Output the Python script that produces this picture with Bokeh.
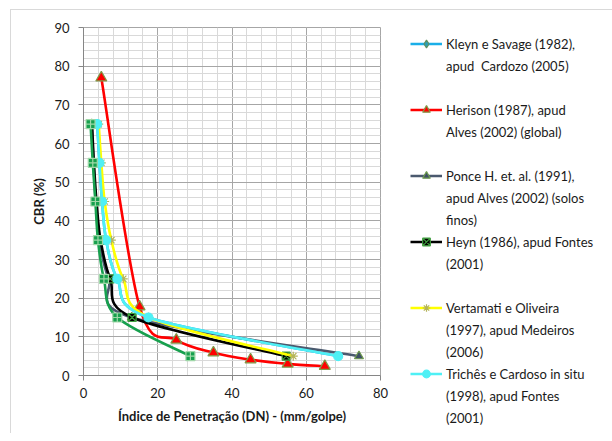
import numpy as np
from bokeh.plotting import figure
from bokeh.models import Range1d, SingleIntervalTicker, Legend, LegendItem
from bokeh.embed import file_html
from bokeh.resources import INLINE

# ---- data ----
kleyn_dn = [3.7, 4.3, 5.0, 6.1, 9.1, 17.5, 68.6]
kleyn_cbr = [65, 55, 45, 35, 25, 15, 5]

herison_dn = [4.8, 15.1, 25.0, 35.0, 45.0, 55.0, 65.0]
herison_cbr = [77, 17.8, 9.2, 5.9, 4.1, 3.0, 2.4]

ponce_dn = [2.2, 2.7, 3.3, 4.3, 6.8, 13.0, 74.2]
ponce_cbr = [65, 55, 45, 35, 25, 15, 5]

heyn_dn = [2.3, 2.8, 3.5, 4.6, 7.2, 13.1, 54.6]
heyn_cbr = [65, 55, 45, 35, 25, 15, 5]

vert_dn = [4.1, 4.8, 5.7, 7.5, 10.7, 17.6, 56.5]
vert_cbr = [65, 55, 45, 35, 25, 15, 5]

trich_dn = [3.7, 4.3, 5.0, 6.1, 9.1, 17.5, 68.6]
trich_cbr = [65, 55, 45, 35, 25, 15, 5]

green_dn = [1.9, 2.5, 3.2, 3.9, 5.5, 9.1, 28.8]
green_cbr = [65, 55, 45, 35, 25, 15, 5]

legend_lines = [
    ["Kleyn e Savage (1982),", "apud  Cardozo (2005)"],
    ["Herison (1987), apud", "Alves (2002) (global)"],
    ["Ponce H. et. al. (1991),", "apud Alves (2002) (solos", "finos)"],
    ["Heyn (1986), apud Fontes", "(2001)"],
    ["Vertamati e Oliveira", "(1997), apud Medeiros", "(2006)"],
    ["Trichês e Cardoso in situ", "(1998), apud Fontes", "(2001)"],
]

FONT = "Lato"
ROW_H = 19
ROW_GAP = 3


def smooth_segments(xs, ys):
    """Excel-like smoothed line: cubic Bezier control points (Catmull-Rom)."""
    x = np.asarray(xs, float)
    y = np.asarray(ys, float)
    n = len(x)
    qx = np.concatenate([[x[0]], x, [x[-1]]])
    qy = np.concatenate([[y[0]], y, [y[-1]]])
    cx0 = qx[1:n] + (qx[2:n + 1] - qx[0:n - 1]) / 6.0
    cy0 = qy[1:n] + (qy[2:n + 1] - qy[0:n - 1]) / 6.0
    cx1 = qx[2:n + 1] - (qx[3:n + 2] - qx[1:n]) / 6.0
    cy1 = qy[2:n + 1] - (qy[3:n + 2] - qy[1:n]) / 6.0
    return dict(x0=x[:-1], y0=y[:-1], x1=x[1:], y1=y[1:],
                cx0=cx0, cy0=cy0, cx1=cx1, cy1=cy1)


p = figure(frame_width=297, frame_height=348,
           min_border_left=72, min_border_right=222,
           min_border_top=17, min_border_bottom=58,
           x_range=Range1d(0, 80), y_range=Range1d(0, 90),
           output_backend="svg", toolbar_location=None,
           background_fill_color="white", border_fill_color="white",
           outline_line_color="#a6a6a6",
           styles={"border-left": "1px solid #d9d9d9",
                   "border-top": "1px solid #d9d9d9",
                   "margin-left": "10px", "margin-top": "9px"})

p.xaxis.ticker = SingleIntervalTicker(interval=20, num_minor_ticks=5)
p.yaxis.ticker = SingleIntervalTicker(interval=10, num_minor_ticks=5)

for ax in (p.xaxis, p.yaxis):
    ax.axis_line_color = "#868686"
    ax.major_tick_line_color = "#868686"
    ax.major_tick_out = 5
    ax.major_tick_in = 0
    ax.minor_tick_line_color = None
    ax.major_label_text_font = FONT
    ax.major_label_text_font_size = "13px"
    ax.major_label_text_color = "#1a1a1a"
    ax.axis_label_text_font = FONT
    ax.axis_label_text_font_size = "13px"
    ax.axis_label_text_font_style = "bold"
    ax.axis_label_text_color = "#1a1a1a"

p.xaxis.axis_label = "Índice de Penetração (DN) - (mm/golpe)"
p.yaxis.axis_label = "CBR (%)"
p.xaxis.major_label_standoff = 7
p.yaxis.major_label_standoff = 9
p.xaxis.axis_label_standoff = 7
p.yaxis.axis_label_standoff = 4

for g in (p.xgrid, p.ygrid):
    g.grid_line_color = "#a6a6a6"
    g.minor_grid_line_color = "#d9d9d9"

series = [
    (kleyn_dn, kleyn_cbr, "#1aaee8", "diamond", "#2a9fb5", "#5f8f5f", 9),
    (herison_dn, herison_cbr, "#ff0000", "triangle", "#ff0000", "#7f9a48", 11),
    (ponce_dn, ponce_cbr, "#4a596e", "triangle", "#3e4f66", "#6e9a4e", 9),
    (heyn_dn, heyn_cbr, "#000000", "square_x", "#000000", "#3fa03f", 8),
    (vert_dn, vert_cbr, "#ffff00", "asterisk", "#ffff66", "#b4b45a", 9),
    (trich_dn, trich_cbr, "#4ff0f5", "circle", "#4ff0f5", "#4ff0f5", 9),
    (green_dn, green_cbr, "#17a04e", "square_cross", "#17a04e", "#9fd8a8", 9),
]

items = []
for i, (xs, ys, lc, mk, fc, mlc, ms) in enumerate(series):
    seg = smooth_segments(xs, ys)
    r_line = p.bezier(line_color=lc, line_width=2.6, **seg)
    r_mark = p.scatter(xs, ys, marker=mk, size=ms, fill_color=fc,
                       line_color=mlc, line_width=1.2)
    if i < len(legend_lines):
        lines = legend_lines[i]
        items.append(LegendItem(label=lines[0], renderers=[r_line, r_mark]))
        for t in lines[1:]:
            items.append(LegendItem(label=t, renderers=[]))
        if len(lines) < 3 and i < len(legend_lines) - 1:
            items.append(LegendItem(label=" ", renderers=[]))

n_rows = len(items)
leg_h = n_rows * ROW_H + (n_rows - 1) * ROW_GAP
# tuple gives the legend's bottom-left corner inside the right panel
legend = Legend(items=items, location=(30, 348 - 7 - leg_h),
                padding=0, margin=0, spacing=ROW_GAP,
                glyph_width=32, glyph_height=ROW_H, label_height=ROW_H,
                label_standoff=4,
                label_text_font=FONT, label_text_font_size="13px",
                label_text_color="#1a1a1a",
                border_line_color=None, background_fill_alpha=0)
p.add_layout(legend, "right")

open("out.html", "w").write(file_html(p, INLINE))
